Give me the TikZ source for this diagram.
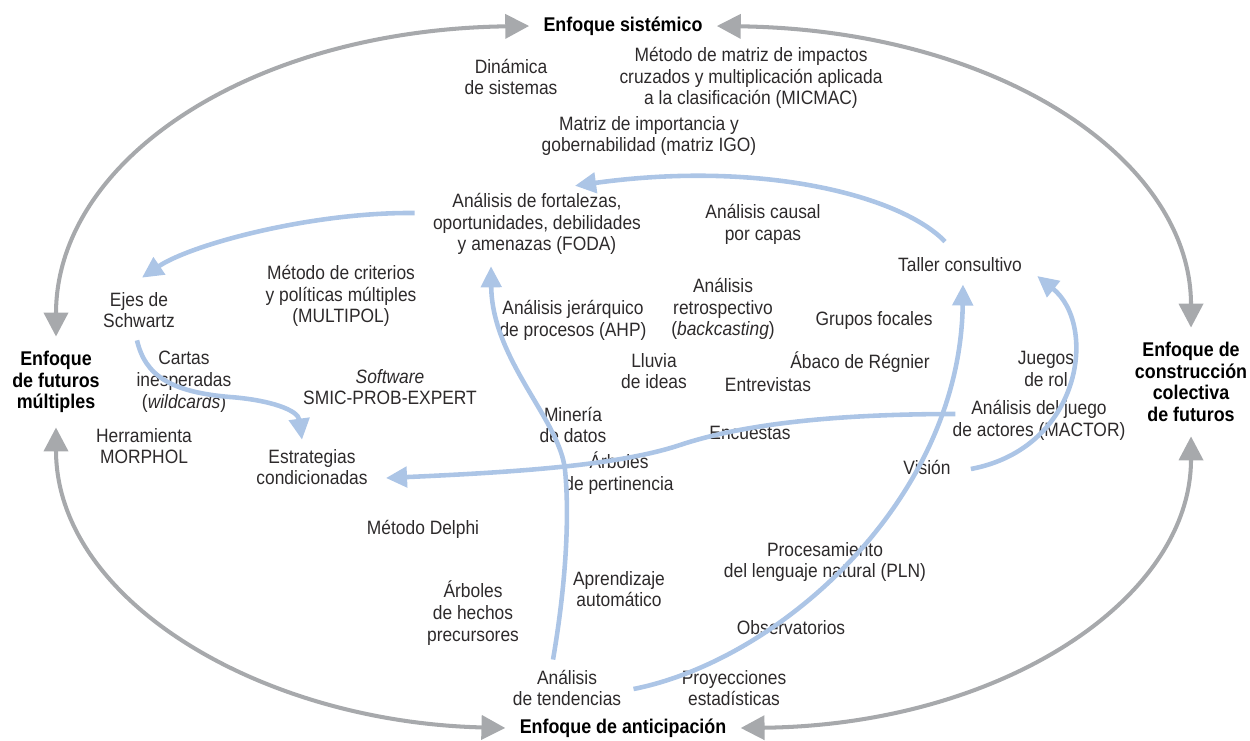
\documentclass[tikz,border=0pt]{standalone}
\usepackage{fontspec}
\setmainfont{Liberation Sans}[FakeStretch=0.9]
\usetikzlibrary{arrows.meta,calc}
\definecolor{arcgray}{RGB}{167,169,172}
\definecolor{linkblue}{RGB}{172,197,230}
\definecolor{txt}{RGB}{45,42,43}

\begin{document}
\begin{tikzpicture}[x=0.02cm, y=-0.02cm,
    tool/.style={align=center, inner sep=0pt, text=txt, font=\fontsize{11}{12.4}\selectfont},
    approach/.style={align=center, inner sep=8pt, text=black, font=\fontsize{11.3}{12.4}\selectfont\bfseries},
    garrow/.style={arcgray, line width=2.3pt, {Triangle[length=13.6pt,width=13.6pt]}-{Triangle[length=13.6pt,width=13.6pt]}},
    barrow/.style={linkblue, line width=2.6pt, -{Triangle[length=12pt,width=11.5pt]}}]
    \useasboundingbox (0,0) rectangle (1250,740);

    \node[approach] (sis) at (623,26) {Enfoque sistémico};
    \node[approach] (ant) at (623,728) {Enfoque de anticipación};
    \node[approach] (mult) at (56,382) {Enfoque\\de futuros\\múltiples};
    \node[approach] (col) at (1191,382) {Enfoque de\\construcción\\colectiva\\de futuros};

    \node[tool] (dinamica) at (511,77) {Dinámica\\de sistemas};
    \node[tool] (micmac) at (751,78) {Método de matriz de impactos\\cruzados y multiplicación aplicada\\a la clasificación (MICMAC)};
    \node[tool] (igo) at (649,136) {Matriz de importancia y\\gobernabilidad (matriz IGO)};
    \node[tool] (foda) at (537,224) {Análisis de fortalezas,\\oportunidades, debilidades\\y amenazas (FODA)};
    \node[tool] (causal) at (763,224) {Análisis causal\\por capas};
    \node[tool] (taller) at (960,265) {Taller consultivo};
    \node[tool] (ejes) at (139,310) {Ejes de\\Schwartz};
    \node[tool] (multipol) at (341,296) {Método de criterios\\y políticas múltiples\\(MULTIPOL)};
    \node[tool] (ahp) at (573,320) {Análisis jerárquico\\de procesos (AHP)};
    \node[tool] (retro) at (723,309) {Análisis\\retrospectivo\\(\textit{backcasting})};
    \node[tool] (focales) at (874,320) {Grupos focales};
    \node[tool] (lluvia) at (654,371) {Lluvia\\de ideas};
    \node[tool] (abaco) at (860,362) {Ábaco de Régnier};
    \node[tool] (entrev) at (768,385) {Entrevistas};
    \node[tool] (juegos) at (1046,369) {Juegos\\de rol};
    \node[tool] (cartas) at (184,382) {Cartas\\inesperadas\\(\textit{wildcards})};
    \node[tool] (smic) at (390,387) {\textit{Software}\\SMIC-PROB-EXPERT};
    \node[tool] (mactor) at (1039,420) {Análisis del juego\\de actores (MACTOR)};
    \node[tool] (morphol) at (144,446) {Herramienta\\MORPHOL};
    \node[tool] (estrat) at (312,467) {Estrategias\\condicionadas};
    \node[tool] (mineria) at (573,425) {Minería\\de datos};
    \node[tool] (encuestas) at (750,433) {Encuestas};
    \node[tool] (pertin) at (619,473) {Árboles\\de pertinencia};
    \node[tool] (vision) at (927,467) {Visión};
    \node[tool] (delphi) at (423,529) {Método Delphi};
    \node[tool] (pln) at (825,562) {Procesamiento\\del lenguaje natural (PLN)};
    \node[tool] (aprend) at (619,589) {Aprendizaje\\automático};
    \node[tool] (hechos) at (473,613) {Árboles\\de hechos\\precursores};
    \node[tool] (observ) at (791,628) {Observatorios};
    \node[tool] (tend) at (567,688) {Análisis\\de tendencias};
    \node[tool] (proy) at (734,688) {Proyecciones\\estadísticas};

    \draw[garrow] (sis.west) .. controls (250,30) and (56,160) .. (mult.north);
    \draw[garrow] (mult.south) .. controls (56,600) and (260,722) .. (ant.west);
    \draw[garrow] (sis.east) .. controls (1000,30) and (1191,160) .. (col.north);
    \draw[garrow] (col.south) .. controls (1191,600) and (1000,725) .. (ant.east);

    \draw[barrow] ($(taller.north)+(-15,-16)$) .. controls (900,195) and (760,160) .. ($(foda.north)+(38,-7)$);
    \draw[barrow] ($(foda.west)+(-18,-11)$) .. controls (310,212) and (190,245) .. ($(ejes.north)+(3,-14)$);
    \draw[barrow] ($(ejes.south)+(-2,12)$) .. controls (145,375) and (170,392) .. (230,397)
        .. controls (270,400) and (298,410) .. ($(estrat.north)+(-10,-9)$);
    \draw[barrow] ($(mactor.west)+(3,-6)$) .. controls (830,414) and (740,425) .. (680,445)
        .. controls (620,465) and (520,472) .. ($(estrat.east)+(18,11)$);
    \draw[barrow] ($(tend.north)+(-14,-10)$) .. controls (565,590) and (570,520) .. (565,470)
        .. controls (560,420) and (492,360) .. ($(foda.south)+(-46,11)$);
    \draw[barrow] ($(tend.east)+(12,1)$) .. controls (780,660) and (960,500) .. ($(taller.south)+(3,12)$);
    \draw[barrow] ($(vision.east)+(20,2)$) .. controls (1082,448) and (1098,325) .. ($(taller.east)+(15,11)$);
\end{tikzpicture}
\end{document}
